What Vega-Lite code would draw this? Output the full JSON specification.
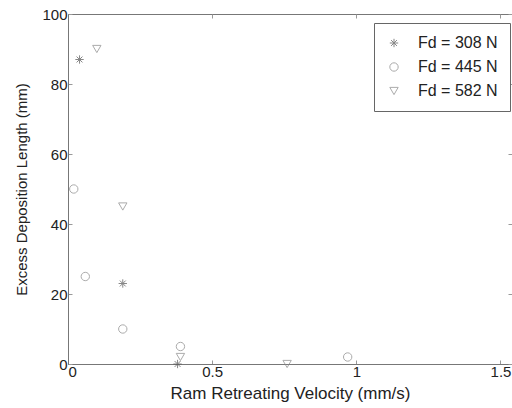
{
  "$schema": "https://vega.github.io/schema/vega-lite/v6.json",
  "width": 444,
  "height": 350,
  "autosize": {"type": "none"},
  "padding": {"left": 68, "top": 14, "right": 0, "bottom": 44},
  "background": "white",
  "config": {
    "view": {"stroke": "#777", "strokeWidth": 1},
    "font": "Liberation Sans",
    "axis": {
      "grid": false,
      "domainColor": "#777",
      "tickColor": "#999",
      "tickSize": -4,
      "labelColor": "#222",
      "titleColor": "#222",
      "labelFont": "Liberation Sans",
      "titleFont": "Liberation Sans",
      "labelFontSize": 15,
      "titleFontSize": 16,
      "titleFontWeight": "normal"
    },
    "legend": {
      "title": null,
      "orient": "none",
      "legendX": 306,
      "legendY": 9,
      "strokeColor": "#666",
      "fillColor": "white",
      "padding": 12,
      "labelFont": "Liberation Sans",
      "labelFontSize": 16,
      "labelColor": "#222",
      "labelOffset": 16,
      "rowPadding": 8,
      "symbolSize": 70,
      "symbolStrokeWidth": 1
    }
  },
  "data": {
    "values": [
      {"v": 0.04, "len": 87, "Fd": "Fd = 308 N"},
      {"v": 0.19, "len": 23, "Fd": "Fd = 308 N"},
      {"v": 0.38, "len": 0, "Fd": "Fd = 308 N"},
      {"v": 0.02, "len": 50, "Fd": "Fd = 445 N"},
      {"v": 0.06, "len": 25, "Fd": "Fd = 445 N"},
      {"v": 0.19, "len": 10, "Fd": "Fd = 445 N"},
      {"v": 0.39, "len": 5, "Fd": "Fd = 445 N"},
      {"v": 0.97, "len": 2, "Fd": "Fd = 445 N"},
      {"v": 0.1, "len": 90, "Fd": "Fd = 582 N"},
      {"v": 0.19, "len": 45, "Fd": "Fd = 582 N"},
      {"v": 0.39, "len": 2, "Fd": "Fd = 582 N"},
      {"v": 0.76, "len": 0, "Fd": "Fd = 582 N"}
    ]
  },
  "layer": [
    {
      "mark": {"type": "point", "filled": false, "strokeWidth": 1, "clip": false},
      "encoding": {
        "x": {
          "field": "v", "type": "quantitative",
          "scale": {"domain": [0, 1.54], "nice": false, "zero": false},
          "axis": {"values": [0, 0.5, 1, 1.5], "format": "~g", "title": "Ram Retreating Velocity (mm/s)", "titleFontSize": 17, "labelPadding": 4, "titlePadding": 6}
        },
        "y": {
          "field": "len", "type": "quantitative",
          "scale": {"domain": [0, 100], "nice": false},
          "axis": {"values": [0, 20, 40, 60, 80, 100], "title": "Excess Deposition Length (mm)", "titleFontSize": 15, "labelPadding": 5, "titlePadding": 12}
        },
        "shape": {
          "field": "Fd", "type": "nominal",
          "scale": {
            "domain": ["Fd = 308 N", "Fd = 445 N", "Fd = 582 N"],
            "range": ["M-1,0H1M0,-1V1M-0.7,-0.7L0.7,0.7M-0.7,0.7L0.7,-0.7", "circle", "triangle-down"]
          },
          "legend": {"title": null, "orient": "none", "legendX": 306, "legendY": 9}
        },
        "color": {
          "field": "Fd", "type": "nominal",
          "scale": {
            "domain": ["Fd = 308 N", "Fd = 445 N", "Fd = 582 N"],
            "range": ["#555555", "#888888", "#888888"]
          },
          "legend": {"title": null, "orient": "none", "legendX": 306, "legendY": 9}
        },
        "size": {"value": 70}
      }
    },
    {
      "mark": {"type": "point", "opacity": 0},
      "encoding": {
        "x": {
          "field": "v", "type": "quantitative",
          "axis": {"orient": "top", "values": [0, 0.5, 1, 1.5], "labels": false, "title": null, "domain": false}
        },
        "y": {
          "field": "len", "type": "quantitative",
          "axis": {"orient": "right", "values": [0, 20, 40, 60, 80, 100], "labels": false, "title": null, "domain": false}
        }
      }
    }
  ],
  "resolve": {"axis": {"x": "independent", "y": "independent"}}
}
